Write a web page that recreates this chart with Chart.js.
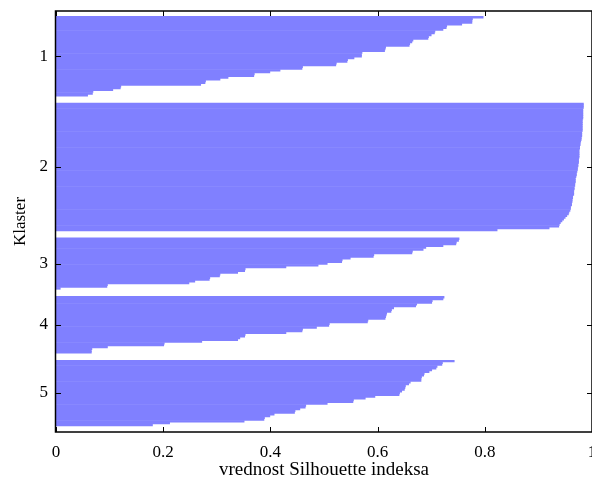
<!DOCTYPE html>
<html>
<head>
<meta charset="utf-8">
<title>Silhouette</title>
<script src="https://cdn.jsdelivr.net/npm/chart.js@4/dist/chart.umd.min.js"></script>
<style>
    body { margin: 0; background: #fff; }
    canvas { display: block; }
</style>
</head>
<body>
<canvas id="silhouetteChart" width="592" height="481"></canvas>
<script>
"use strict";

// silhouette vrijednosti po klasterima (sortirano opadajuce)
const klaster1 = [0.797, 0.777, 0.776, 0.776, 0.757, 0.729, 0.728, 0.722, 0.707, 0.706,
    0.700, 0.695, 0.694, 0.666, 0.664, 0.660, 0.659, 0.615, 0.614, 0.613,
    0.571, 0.570, 0.570, 0.556, 0.544, 0.543, 0.523, 0.522, 0.460, 0.459,
    0.418, 0.399, 0.370, 0.369, 0.321, 0.306, 0.279, 0.278, 0.270, 0.121,
    0.120, 0.106, 0.069, 0.068, 0.059];
const klaster2 = [0.984, 0.984, 0.984, 0.983, 0.983, 0.983, 0.983, 0.983, 0.983, 0.982,
    0.982, 0.982, 0.982, 0.982, 0.982, 0.982, 0.981, 0.981, 0.981, 0.980,
    0.980, 0.979, 0.978, 0.978, 0.977, 0.977, 0.976, 0.976, 0.976, 0.976,
    0.976, 0.975, 0.975, 0.975, 0.974, 0.974, 0.973, 0.973, 0.972, 0.971,
    0.971, 0.970, 0.969, 0.969, 0.969, 0.968, 0.968, 0.967, 0.967, 0.966,
    0.966, 0.966, 0.964, 0.964, 0.963, 0.963, 0.962, 0.962, 0.960, 0.960,
    0.959, 0.957, 0.956, 0.953, 0.950, 0.947, 0.944, 0.941, 0.939, 0.938,
    0.920, 0.823];
const klaster3 = [0.752, 0.751, 0.747, 0.746, 0.722, 0.690, 0.685, 0.665, 0.664, 0.593,
    0.592, 0.549, 0.534, 0.533, 0.506, 0.489, 0.429, 0.353, 0.352, 0.339,
    0.306, 0.305, 0.287, 0.286, 0.259, 0.248, 0.096, 0.095, 0.008];
const klaster4 = [0.724, 0.722, 0.702, 0.701, 0.673, 0.671, 0.630, 0.626, 0.625, 0.617,
    0.616, 0.615, 0.614, 0.582, 0.581, 0.510, 0.509, 0.486, 0.460, 0.459,
    0.429, 0.353, 0.352, 0.343, 0.339, 0.272, 0.202, 0.201, 0.096, 0.067,
    0.066, 0.066];
const klaster5 = [0.743, 0.721, 0.720, 0.711, 0.709, 0.701, 0.696, 0.687, 0.686, 0.682,
    0.681, 0.681, 0.661, 0.658, 0.652, 0.651, 0.650, 0.645, 0.641, 0.640,
    0.595, 0.577, 0.555, 0.554, 0.506, 0.466, 0.465, 0.455, 0.446, 0.445,
    0.407, 0.399, 0.389, 0.388, 0.351, 0.212, 0.180];

const klasteri = [klaster1, klaster2, klaster3, klaster4, klaster5];
const oznakeKlastera = ["1", "2", "3", "4", "5"];
const xTicks = [0, 0.2, 0.4, 0.6, 0.8, 1];

const razmak = 4; // prazni redovi izmedju klastera

window.onload = init;

function init() {
    // redni broj reda za svaku tacku, sa razmakom izmedju klastera
    const tacke = [];
    const centri = [];
    let red = 1;
    klasteri.forEach(vrijednosti => {
        const prvi = red;
        vrijednosti.forEach(v => {
            tacke.push({ x: v, y: red });
            red++;
        });
        centri.push((prvi + red - 1) / 2);
        red += razmak;
    });
    const zadnji = red - razmak - 1;

    displaySilhouette(tacke, centri, zadnji);
}

// okvir i unutrasnje crtice kao u matlabu
const okvir = {
    id: "okvir",
    afterDatasetsDraw(chart) {
        const { ctx, chartArea: a, scales } = chart;
        const duz = 5;
        ctx.save();
        ctx.strokeStyle = "#000";
        ctx.lineWidth = 1.5;
        ctx.strokeRect(a.left - 0.5, a.top, a.right - a.left + 0.5, a.bottom - a.top);
        ctx.lineWidth = 1;
        ctx.beginPath();
        scales.x.ticks.forEach(t => {
            const px = Math.round(scales.x.getPixelForValue(t.value)) + 0.5;
            ctx.moveTo(px, a.bottom); ctx.lineTo(px, a.bottom - duz);
            ctx.moveTo(px, a.top); ctx.lineTo(px, a.top + duz);
        });
        scales.y.ticks.forEach(t => {
            const py = Math.round(scales.y.getPixelForValue(t.value)) + 0.5;
            ctx.moveTo(a.left, py); ctx.lineTo(a.left + duz, py);
            ctx.moveTo(a.right, py); ctx.lineTo(a.right - duz, py);
        });
        ctx.stroke();
        ctx.restore();
    }
};

function displaySilhouette(tacke, centri, zadnji) {
    const chartEl = document.getElementById("silhouetteChart");
    const font = "'Liberation Serif', 'Times New Roman', serif";

    new Chart(chartEl, {
        type: "bar",
        data: {
            datasets: [{
                data: tacke,
                backgroundColor: "#8080ff",
                borderWidth: 0,
                barPercentage: 1,
                categoryPercentage: 1
            }]
        },
        options: {
            indexAxis: "y",
            responsive: false,
            devicePixelRatio: 1,
            animation: false,
            layout: { padding: { top: 11, right: 0, bottom: 0, left: 0 } },
            plugins: {
                legend: { display: false },
                tooltip: { enabled: false }
            },
            scales: {
                x: {
                    type: "linear",
                    min: 0,
                    max: 1,
                    grid: { display: false, drawTicks: false },
                    border: { display: false },
                    afterBuildTicks: scale => {
                        scale.ticks = xTicks.map(v => ({ value: v }));
                    },
                    ticks: {
                        color: "#000",
                        padding: 10,
                        autoSkip: false,
                        maxRotation: 0,
                        font: { family: font, size: 17 },
                        callback: v => String(v)
                    },
                    title: {
                        display: true,
                        text: "vrednost Silhouette indeksa",
                        color: "#000",
                        padding: { top: 0, bottom: 1 },
                        font: { family: font, size: 19, lineHeight: 1 }
                    },
                    afterFit: scale => {
                        scale.height = 49;
                        scale.paddingLeft = 0;
                        scale.paddingRight = 0;
                    }
                },
                y: {
                    type: "linear",
                    reverse: true,
                    offset: false,
                    min: -2.5,
                    max: zadnji + 4,
                    grid: { display: false, drawTicks: false },
                    border: { display: false },
                    afterBuildTicks: scale => {
                        scale.ticks = centri.map(v => ({ value: v }));
                    },
                    ticks: {
                        color: "#000",
                        padding: 8,
                        autoSkip: false,
                        font: { family: font, size: 17 },
                        callback: (v, i) => oznakeKlastera[i]
                    },
                    title: {
                        display: true,
                        text: "Klaster",
                        color: "#000",
                        padding: { top: 12, bottom: 0 },
                        font: { family: font, size: 17, lineHeight: 1 }
                    },
                    afterFit: scale => {
                        scale.width = 56;
                        scale.paddingTop = 0;
                        scale.paddingBottom = 0;
                    }
                }
            }
        },
        plugins: [okvir]
    });
}
</script>
</body>
</html>
